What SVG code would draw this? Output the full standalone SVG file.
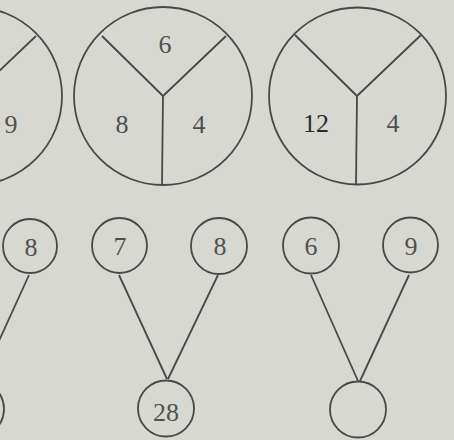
<svg xmlns="http://www.w3.org/2000/svg" width="454" height="440" viewBox="0 0 454 440">
<style>
.bg{fill:#d8d8d3}
.c{fill:none;stroke:#484848;stroke-width:1.8}
.l{stroke:#484848;stroke-width:1.8;fill:none}
.t{font-family:"Liberation Serif","Times New Roman",serif;font-size:26px;fill:#505050;text-anchor:middle}
.d{fill:#2a2a2a}
</style>
<rect class="bg" x="0" y="0" width="454" height="440"/>
<g id="pie-left">
<circle class="c" cx="-27" cy="96" r="89"/>
<path class="l" d="M-27 96 L36 36"/>
<text class="t" x="11" y="133">9</text>
</g>
<g id="pie-middle">
<circle class="c" cx="163" cy="96" r="89"/>
<path class="l" d="M163 96 L102 36 M163 96 L226 36 M163 96 L162 185"/>
<text class="t" x="165" y="53">6</text>
<text class="t" x="122" y="133">8</text>
<text class="t" x="199" y="133">4</text>
</g>
<g id="pie-right">
<circle class="c" cx="357.5" cy="96" r="88.5"/>
<path class="l" d="M357 96 L295 35 M357 96 L421 35 M357 96 L356 184"/>
<text class="t d" x="316" y="132">12</text>
<text class="t" x="393" y="132">4</text>
</g>
<g id="connectors">
<path class="l" d="M29 275 L-12 365"/>
<path class="l" d="M119 275 L167 379 M218 275 L168 379"/>
<path class="l" d="M311 275 L358 381 M409 275 L360 381"/>
</g>
<g id="n-left-top"><circle class="c" cx="30" cy="246" r="27"/><text class="t" x="31" y="256">8</text></g>
<g id="n-left-bottom"><circle class="c" cx="-24" cy="409" r="28"/></g>
<g id="n-mid-a"><circle class="c" cx="119.5" cy="245.5" r="27.5"/><text class="t" x="120" y="255">7</text></g>
<g id="n-mid-b"><circle class="c" cx="219" cy="246" r="28"/><text class="t" x="220" y="255">8</text></g>
<g id="n-mid-sum"><circle class="c" cx="166" cy="408.5" r="28"/><text class="t" x="166" y="421">28</text></g>
<g id="n-right-a"><circle class="c" cx="311" cy="245.5" r="28"/><text class="t" x="311" y="255">6</text></g>
<g id="n-right-b"><circle class="c" cx="410.5" cy="245" r="27.5"/><text class="t" x="411" y="255">9</text></g>
<g id="n-right-sum"><circle class="c" cx="358" cy="409.5" r="28"/></g>
</svg>
